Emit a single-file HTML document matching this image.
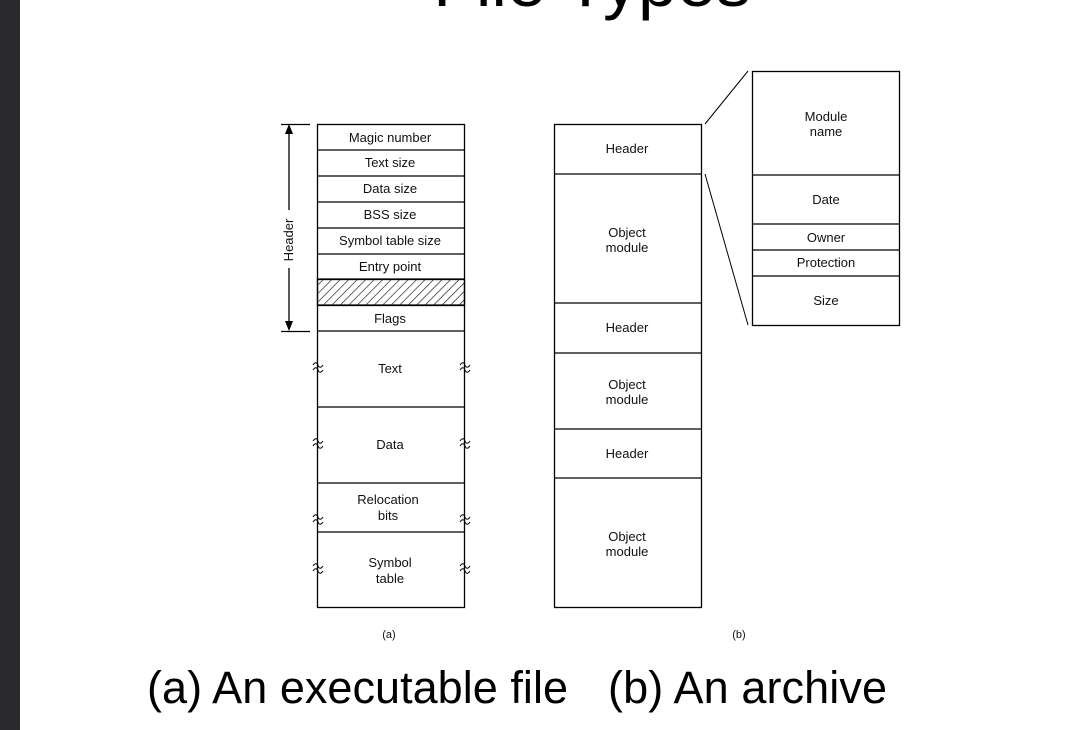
<!DOCTYPE html>
<html><head><style>
body{margin:0;width:1072px;height:730px;background:#fff;overflow:hidden;position:relative;font-family:"Liberation Sans",sans-serif}
</style></head><body>
<div style="position:absolute;left:0;top:0;width:20px;height:730px;background:#2a2a2e"></div>
<svg width="1072" height="730" style="position:absolute;left:0;top:0" font-family="Liberation Sans, sans-serif">
<defs>
<pattern id="h" width="6" height="6" patternUnits="userSpaceOnUse" patternTransform="rotate(45)">
<line x1="0" y1="0" x2="0" y2="6" stroke="#000" stroke-width="1.2"/></pattern>
</defs>
<text x="592" y="6" font-size="70" text-anchor="middle">File Types</text>
<g stroke="#000" stroke-width="1.3" fill="none">
<rect x="317.5" y="124.5" width="147" height="483"/>
<rect x="317.5" y="279.5" width="147" height="26" fill="url(#h)"/>
<path d="M317 150H464M317 176H464M317 202H464M317 228H464M317 254H464M317 279H464M317 305H464M317 331H464M317 407H464M317 483H464M317 532H464"/>
<path d="M281 124.5H310M281 331.5H310M289 128V210M289 268V327" />
<rect x="554.5" y="124.5" width="147" height="483"/>
<path d="M554 174H701M554 303H701M554 353H701M554 429H701M554 478H701"/>
<rect x="752.5" y="71.5" width="147" height="254"/>
<path d="M752 175H899M752 224H899M752 250H899M752 276H899"/>
<path d="M705 124L748 71M705 174L748 325" stroke-width="1"/>
</g>
<path d="M289 124L285 134H293ZM289 331L285 321H293Z" fill="#000"/>
<g stroke="#000" stroke-width="1" fill="none">
<path id="w" d="M313 0c2-3 4-3 5 0s3 3 5 0M313 5c2-3 4-3 5 0s3 3 5 0" transform="translate(0,365)"/>
<use href="#w" y="76"/><use href="#w" y="152"/><use href="#w" y="201"/>
<use href="#w" y="-0" x="147"/><use href="#w" y="76" x="147"/><use href="#w" y="152" x="147"/><use href="#w" y="201" x="147"/>
</g>
<g font-size="13" text-anchor="middle" fill="#111">
<text x="390" y="142">Magic number</text>
<text x="390" y="167">Text size</text>
<text x="390" y="193">Data size</text>
<text x="390" y="219">BSS size</text>
<text x="390" y="245">Symbol table size</text>
<text x="390" y="271">Entry point</text>
<text x="390" y="323">Flags</text>
<text x="390" y="373">Text</text>
<text x="390" y="449">Data</text>
<text x="388" y="504">Relocation</text><text x="388" y="520">bits</text>
<text x="390" y="567">Symbol</text><text x="390" y="583">table</text>
<text transform="translate(293,240) rotate(-90)">Header</text>
<text x="627" y="153">Header</text>
<text x="627" y="237">Object</text><text x="627" y="252">module</text>
<text x="627" y="332">Header</text>
<text x="627" y="389">Object</text><text x="627" y="404">module</text>
<text x="627" y="458">Header</text>
<text x="627" y="541">Object</text><text x="627" y="556">module</text>
<text x="826" y="121">Module</text><text x="826" y="136">name</text>
<text x="826" y="204">Date</text>
<text x="826" y="242">Owner</text>
<text x="826" y="267">Protection</text>
<text x="826" y="305">Size</text>
<text x="389" y="638" font-size="11">(a)</text>
<text x="739" y="638" font-size="11">(b)</text>
</g>
<text x="147" y="703" font-size="45" fill="#000" textLength="421">(a) An executable file</text>
<text x="608" y="703" font-size="45" fill="#000" textLength="279">(b) An archive</text>
</svg>
</body></html>
